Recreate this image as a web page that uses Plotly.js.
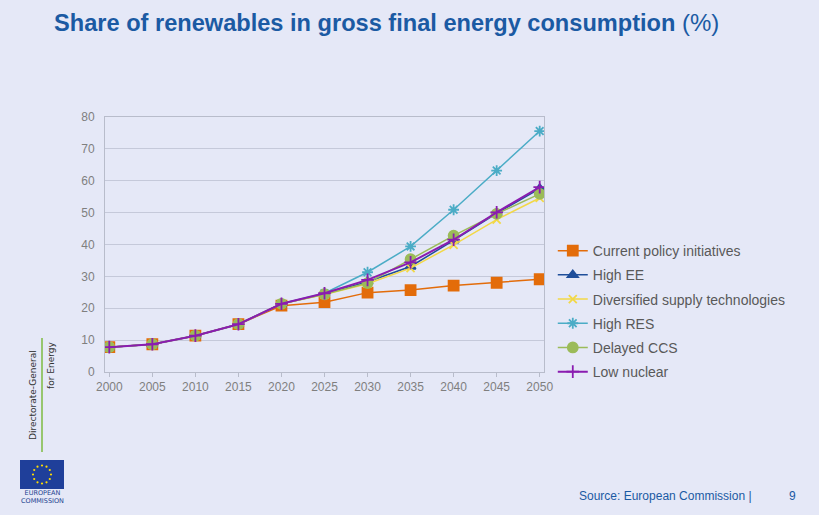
<!DOCTYPE html>
<html>
<head>
<meta charset="utf-8">
<script src="https://cdn.plot.ly/plotly-3.0.1.min.js"></script>
<style>
html,body{margin:0;padding:0;background:#E5E8F7;}
#chart{width:819px;height:515px;}
</style>
</head>
<body>
<div id="chart"></div>
<script>
var years = [2000, 2005, 2010, 2015, 2020, 2025, 2030, 2035, 2040, 2045, 2050];
var seriesNames = ["Current policy initiatives", "High EE", "Diversified supply technologies", "High RES", "Delayed CCS", "Low nuclear"];
var currentPolicy = [7.8, 8.7, 11.4, 15.0, 20.8, 21.9, 24.9, 25.7, 27.1, 28.0, 29.1];
var highEE        = [7.8, 8.7, 11.4, 15.0, 21.4, 24.5, 28.3, 33.1, 41.3, 49.8, 57.5];
var diversified   = [7.8, 8.7, 11.4, 15.0, 21.4, 24.3, 27.7, 32.6, 39.9, 47.8, 54.6];
var highRES       = [7.8, 8.7, 11.4, 15.0, 21.4, 24.7, 31.3, 39.4, 50.9, 63.2, 75.6];
var delayedCCS    = [7.8, 8.7, 11.4, 15.0, 21.4, 24.4, 27.9, 35.4, 42.8, 49.6, 55.9];
var lowNuclear    = [7.8, 8.7, 11.4, 15.0, 21.4, 24.7, 28.9, 34.4, 41.5, 50.1, 58.0];
var yTicks = [0, 10, 20, 30, 40, 50, 60, 70, 80];

var colors = ["#E36C0A", "#1F4E9A", "#F2D846", "#4BACC6", "#9BBB59", "#8A1CB0"];
var symbols = ["square", "triangle-up", "x-thin-open", "asterisk-open", "circle", "cross-thin-open"];
var sizes = [10, 9, 8, 9, 10, 9];
var allData = [currentPolicy, highEE, diversified, highRES, delayedCCS, lowNuclear];

var traces = allData.map(function(vals, i){
  return {
    x: years, y: vals, name: seriesNames[i], legendgroup: "g" + i, type: "scatter", mode: "lines+markers",
    line: {color: colors[i], width: i === 5 ? 2 : 1.5},
    marker: {symbol: symbols[i], size: sizes[i], color: colors[i], line: {color: colors[i], width: 1.8}}
  };
});

// EU flag drawn as a small SVG image (decoration)
var flagSvg = '<svg xmlns="http://www.w3.org/2000/svg" width="44" height="29" viewBox="0 0 44 29">' +
  '<rect width="44" height="29" fill="#1F3F9A"/>';
for (var k = 0; k < 12; k++) {
  var a = k * Math.PI / 6;
  var cx = 22 + 9 * Math.sin(a), cy = 14.5 - 9 * Math.cos(a);
  flagSvg += '<circle cx="' + cx.toFixed(2) + '" cy="' + cy.toFixed(2) + '" r="1.1" fill="#FFDD00"/>';
}
flagSvg += '</svg>';
var flagUri = "data:image/svg+xml;charset=utf-8," + encodeURIComponent(flagSvg);

var anns = [
  {text: "<b>Share of renewables in gross final energy consumption</b> <span style=\"font-size:24px\">(%)</span>", xref: "paper", yref: "paper",
   x: (52-105)/439, y: 1 + (117-22)/255, xanchor: "left", yanchor: "middle", showarrow: false,
   font: {family: "Liberation Sans, Arial", size: 23.6, color: "#1B5AA3"}},
  {text: "Source: European Commission |", xref: "paper", yref: "paper",
   x: (577-105)/439, y: -(496-372)/255, xanchor: "left", yanchor: "middle", showarrow: false,
   font: {family: "Liberation Sans, Arial", size: 12, color: "#1B5AA3"}},
  {text: "9", xref: "paper", yref: "paper",
   x: (792-105)/439, y: -(496-372)/255, xanchor: "center", yanchor: "middle", showarrow: false,
   font: {family: "Liberation Sans, Arial", size: 12, color: "#1B5AA3"}},
  {text: "Directorate-General", xref: "paper", yref: "paper", textangle: -90,
   x: (33-105)/439, y: -(395-372)/255, xanchor: "center", yanchor: "middle", showarrow: false,
   font: {family: "DejaVu Sans", size: 9, color: "#333333"}},
  {text: "for Energy", xref: "paper", yref: "paper", textangle: -90,
   x: (51-105)/439, y: -(366-372)/255, xanchor: "center", yanchor: "middle", showarrow: false,
   font: {family: "DejaVu Sans", size: 9, color: "#333333"}},
  {text: "EUROPEAN<br>COMMISSION", xref: "paper", yref: "paper",
   x: (42-105)/439, y: -(497-372)/255, xanchor: "center", yanchor: "middle", showarrow: false,
   font: {family: "DejaVu Sans", size: 6.5, color: "#1B3F8F"}}
];

var layout = {
  width: 819, height: 515,
  margin: {l: 105, r: 275, t: 117, b: 143},
  paper_bgcolor: "#E5E8F7", plot_bgcolor: "#E5E8F7",
  font: {family: "Liberation Sans, Arial", color: "#7F7F7F"},
  showlegend: true,
  legend: {x: 1.02, xanchor: "left", y: 0.537, yanchor: "top", bgcolor: "rgba(0,0,0,0)",
    font: {size: 14, color: "#595959"}, tracegroupgap: 3, itemwidth: 30},
  xaxis: {range: [1999.5, 2050.5], tickvals: years, ticktext: years.map(String),
    showgrid: false, zeroline: false, showline: true, linecolor: "#B8BCCB", mirror: true,
    ticks: "outside", ticklen: 4, tickcolor: "#B8BCCB", tickfont: {size: 12, color: "#7F7F7F"}},
  yaxis: {range: [0, 80], tickvals: yTicks, showgrid: true, gridcolor: "#C5C9DA", zeroline: false,
    showline: true, linecolor: "#B8BCCB", mirror: true, ticks: "", ticklabelstandoff: 7,
    tickfont: {size: 12, color: "#7F7F7F"}},
  annotations: anns,
  images: [{source: flagUri, xref: "paper", yref: "paper", x: (20-105)/439, y: (372-460)/255,
    sizex: 44/439, sizey: 29/255, xanchor: "left", yanchor: "top", sizing: "stretch", layer: "above"}],
  shapes: [
    {type: "line", xref: "paper", yref: "paper", x0: (42-105)/439, x1: (42-105)/439,
     y0: (372-338)/255, y1: (372-452)/255, line: {color: "#7DBB42", width: 1.5}}
  ]
};

Plotly.newPlot("chart", traces, layout, {displayModeBar: false, staticPlot: true});
</script>
</body>
</html>
